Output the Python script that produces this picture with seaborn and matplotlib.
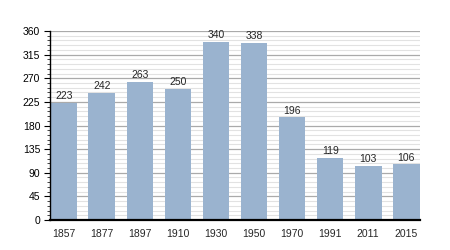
import matplotlib
matplotlib.use("Agg")
import matplotlib.pyplot as plt
import seaborn as sns
import pandas as pd
from matplotlib.ticker import MultipleLocator

years = ["1857", "1877", "1897", "1910", "1930", "1950", "1970", "1991", "2011", "2015"]
population = [223, 242, 263, 250, 340, 338, 196, 119, 103, 106]

df = pd.DataFrame({"year": years, "pop": population})

sns.set_style("white")
plt.rcParams["font.family"] = ["Liberation Sans", "DejaVu Sans"]

fig = plt.figure(figsize=(4.5, 2.5), dpi=100)
ax = fig.add_axes([50/450, 30/250, 370/450, 189/250])

sns.barplot(data=df, x="year", y="pop", color="#9ab3cf", saturation=1,
            width=0.7, ax=ax, linewidth=0, edgecolor="none")

ax.set_ylim(0, 360)
ax.set_xlim(-0.36, 9.36)
ax.yaxis.set_major_locator(MultipleLocator(45))
ax.yaxis.set_minor_locator(MultipleLocator(9))
ax.grid(which="major", axis="y", color="#aaaaaa", linewidth=0.9)
ax.grid(which="minor", axis="y", color="#e2e2e2", linewidth=0.8)
ax.set_axisbelow(True)

for s in ["top", "right"]:
    ax.spines[s].set_visible(False)
ax.spines["left"].set_color("black")
ax.spines["left"].set_linewidth(1.0)
ax.spines["bottom"].set_color("black")
ax.spines["bottom"].set_linewidth(1.6)
for s in ax.spines.values():
    s.set_zorder(5)

ax.tick_params(axis="y", which="major", left=True, length=4, width=0.8,
               labelsize=7.5, colors="black", pad=3)
ax.tick_params(axis="y", which="minor", left=True, length=2, width=0.6)
ax.tick_params(axis="x", bottom=False, labelsize=7.5, pad=3)

for i, v in enumerate(population):
    ax.text(i, v + 3, str(v), ha="center", va="bottom", fontsize=7.5)

ax.set_xlabel("")
ax.set_ylabel("")

fig.savefig("out.png", dpi=100)
